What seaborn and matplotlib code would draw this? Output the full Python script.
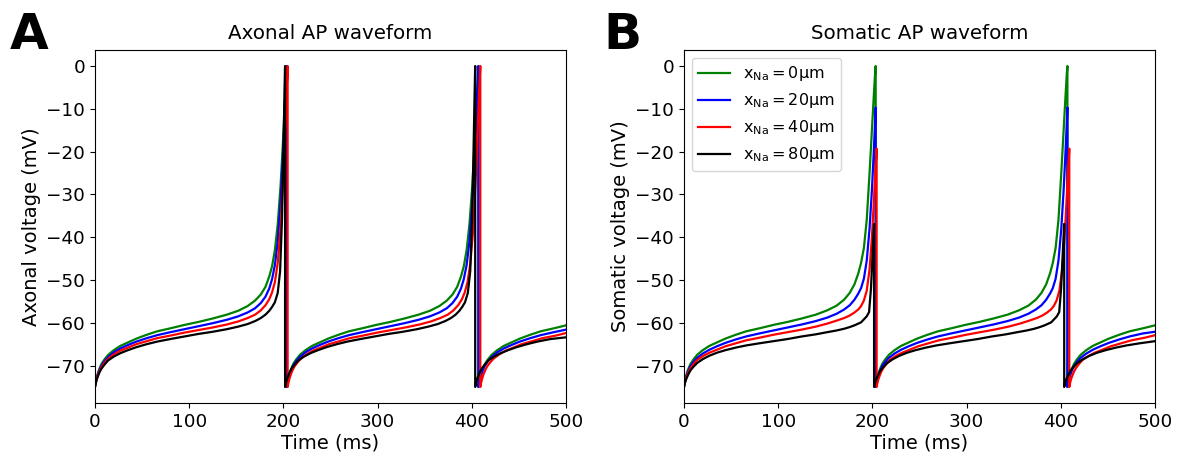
import numpy as np
import pandas as pd
import matplotlib
matplotlib.use("Agg")
import matplotlib.pyplot as plt
import seaborn as sns

# distance of the Na channel cluster from the soma (um) and line colours
x_na = [0, 20, 40, 80]
colors = ["green", "blue", "red", "black"]

# time points (ms) per trace: two spikes, then the start of a third cycle
t_green = [0, 1, 2, 3.5, 5, 7, 10, 14, 20, 27, 35, 44, 55, 66, 80, 95, 110, 125, 140, 152, 162, 170, 176, 181, 185, 188,
           191, 194, 197, 199.5, 201.5, 202.8, 203.5,
           203.5, 204.5, 205.5, 207, 208.5, 210.5, 213.5, 217.5, 223.5, 230.5, 238.5, 247.5, 258.5, 269.5, 283.5, 298.5,
           313.5, 328.5, 343.5, 355.5, 365.5, 373.5, 379.5, 384.5, 388.5, 391.5, 394.5, 397.5, 400.5, 403, 405, 406.3, 407,
           407, 408, 409, 410.5, 412, 414, 417, 421, 427, 434, 442, 451, 462, 473, 487, 500]
t_blue = list(t_green)
t_red = [0, 1, 2, 3.5, 5, 7, 10, 14, 20, 27, 35, 44, 55, 66, 80, 95, 110, 125, 140, 152, 162, 170, 176, 181, 185, 188,
         191, 194, 197, 199.5, 201.5, 203.3, 204.5,
         204.5, 205.5, 206.5, 208, 209.5, 211.5, 214.5, 218.5, 224.5, 231.5, 239.5, 248.5, 259.5, 270.5, 284.5, 299.5,
         314.5, 329.5, 344.5, 356.5, 366.5, 374.5, 380.5, 385.5, 389.5, 392.5, 395.5, 398.5, 401.5, 404, 406, 407.8, 409,
         409, 410, 411, 412.5, 414, 416, 419, 423, 429, 436, 444, 453, 464, 475, 489, 500]
t_black = [0, 1, 2, 3.5, 5, 7, 10, 14, 20, 27, 35, 44, 55, 66, 80, 95, 110, 125, 140, 152, 162, 170, 176, 181, 185, 188,
           191, 194, 196.5, 198.5, 200, 201.2, 201.8,
           201.8, 202.8, 203.8, 205.3, 206.8, 208.8, 211.8, 215.8, 221.8, 228.8, 236.8, 245.8, 256.8, 267.8, 281.8, 296.8,
           311.8, 326.8, 341.8, 353.8, 363.8, 371.8, 377.8, 382.8, 386.8, 389.8, 392.8, 395.8, 398.3, 400.3, 401.8, 403, 403.6,
           403.6, 404.6, 405.6, 407.1, 408.6, 410.6, 413.6, 417.6, 423.6, 430.6, 438.6, 447.6, 458.6, 469.6, 483.6, 500]

# axonal voltage (mV)
ax_green = [-75, -73.7, -72.6, -71.5, -70.6, -69.6, -68.6, -67.5, -66.4, -65.4, -64.6, -63.7, -62.8, -62.0, -61.3, -60.5,
            -59.8, -59.0, -58.1, -57.2, -56.1, -54.8, -53.4, -51.6, -49.2, -46.8, -43, -37, -28, -18, -9, -3, 0,
            -75, -73.7, -72.6, -71.5, -70.6, -69.6, -68.6, -67.5, -66.4, -65.4, -64.6, -63.7, -62.8, -62.0, -61.3, -60.5,
            -59.8, -59.0, -58.1, -57.2, -56.1, -54.8, -53.4, -51.6, -49.2, -46.8, -43, -37, -28, -18, -9, -3, 0,
            -75, -73.7, -72.6, -71.5, -70.6, -69.6, -68.6, -67.5, -66.4, -65.4, -64.6, -63.7, -62.8, -62.0, -61.3, -60.6]
ax_blue = [-75, -73.8, -72.8, -71.8, -70.9, -70, -69, -68, -66.9, -66, -65.2, -64.4, -63.6, -62.9, -62.2, -61.5,
           -60.8, -60.1, -59.3, -58.5, -57.6, -56.6, -55.4, -53.9, -52, -49.8, -46.5, -41, -32, -21, -11, -4, 0,
           -75, -73.8, -72.8, -71.8, -70.9, -70, -69, -68, -66.9, -66, -65.2, -64.4, -63.6, -62.9, -62.2, -61.5,
           -60.8, -60.1, -59.3, -58.5, -57.6, -56.6, -55.4, -53.9, -52, -49.8, -46.5, -41, -32, -21, -11, -4, 0,
           -75, -73.8, -72.8, -71.8, -70.9, -70, -69, -68, -66.9, -66, -65.2, -64.4, -63.6, -62.9, -62.2, -61.6]
ax_red = [-75, -73.9, -73, -72, -71.2, -70.3, -69.4, -68.4, -67.4, -66.5, -65.8, -65, -64.3, -63.6, -63, -62.3,
          -61.7, -61.1, -60.4, -59.7, -58.9, -58.1, -57.1, -55.9, -54.5, -52.9, -50.5, -46, -38, -27, -16, -6, 0,
          -75, -73.9, -73, -72, -71.2, -70.3, -69.4, -68.4, -67.4, -66.5, -65.8, -65, -64.3, -63.6, -63, -62.3,
          -61.7, -61.1, -60.4, -59.7, -58.9, -58.1, -57.1, -55.9, -54.5, -52.9, -50.5, -46, -38, -27, -16, -6, 0,
          -75, -73.9, -73, -72, -71.2, -70.3, -69.4, -68.4, -67.4, -66.5, -65.8, -65, -64.3, -63.6, -63, -62.4]
ax_black = [-75, -74, -73.2, -72.3, -71.5, -70.7, -69.8, -68.8, -67.9, -67.1, -66.4, -65.7, -65, -64.4, -63.8, -63.2,
            -62.6, -62.1, -61.5, -60.9, -60.3, -59.6, -58.9, -58.1, -57.2, -56.3, -55.2, -53, -48, -36, -20, -6, 0,
            -75, -74, -73.2, -72.3, -71.5, -70.7, -69.8, -68.8, -67.9, -67.1, -66.4, -65.7, -65, -64.4, -63.8, -63.2,
            -62.6, -62.1, -61.5, -60.9, -60.3, -59.6, -58.9, -58.1, -57.2, -56.3, -55.2, -53, -48, -36, -20, -6, 0,
            -75, -74, -73.2, -72.3, -71.5, -70.7, -69.8, -68.8, -67.9, -67.1, -66.4, -65.7, -65, -64.4, -63.8, -63.4]

# somatic voltage (mV)
so_green = [-75, -73.7, -72.6, -71.5, -70.6, -69.6, -68.6, -67.5, -66.4, -65.4, -64.6, -63.7, -62.8, -62.0, -61.3, -60.5,
            -59.8, -59.0, -58.1, -57.1, -56.0, -54.6, -53.0, -51.0, -48.5, -46, -42.5, -36, -25, -15, -7, -2, 0,
            -75, -73.7, -72.6, -71.5, -70.6, -69.6, -68.6, -67.5, -66.4, -65.4, -64.6, -63.7, -62.8, -62.0, -61.3, -60.5,
            -59.8, -59.0, -58.1, -57.1, -56.0, -54.6, -53.0, -51.0, -48.5, -46, -42.5, -36, -25, -15, -7, -2, 0,
            -75, -73.7, -72.6, -71.5, -70.6, -69.6, -68.6, -67.5, -66.4, -65.4, -64.6, -63.7, -62.8, -62.0, -61.3, -60.6]
so_blue = [-75, -73.8, -72.9, -71.9, -71, -70.1, -69.2, -68.2, -67.2, -66.3, -65.5, -64.7, -63.9, -63.2, -62.5, -61.8,
           -61.1, -60.4, -59.6, -58.8, -57.9, -56.9, -55.9, -54.6, -53.2, -51.9, -49.7, -45.5, -38, -29, -20, -13.5, -9.7,
           -75, -73.8, -72.9, -71.9, -71, -70.1, -69.2, -68.2, -67.2, -66.3, -65.5, -64.7, -63.9, -63.2, -62.5, -61.8,
           -61.1, -60.4, -59.6, -58.8, -57.9, -56.9, -55.9, -54.6, -53.2, -51.9, -49.7, -45.5, -38, -29, -20, -13.5, -9.7,
           -75, -73.8, -72.9, -71.9, -71, -70.1, -69.2, -68.2, -67.2, -66.3, -65.5, -64.7, -63.9, -63.2, -62.5, -62.1]
so_red = [-75, -73.9, -73.1, -72.2, -71.4, -70.6, -69.7, -68.7, -67.8, -67, -66.3, -65.5, -64.8, -64.1, -63.5, -62.8,
          -62.2, -61.6, -60.9, -60.2, -59.5, -58.9, -58.3, -57.6, -56.9, -56.1, -54.8, -52.5, -47.5, -40, -32, -24, -19.3,
          -75, -73.9, -73.1, -72.2, -71.4, -70.6, -69.7, -68.7, -67.8, -67, -66.3, -65.5, -64.8, -64.1, -63.5, -62.8,
          -62.2, -61.6, -60.9, -60.2, -59.5, -58.9, -58.3, -57.6, -56.9, -56.1, -54.8, -52.5, -47.5, -40, -32, -24, -19.3,
          -75, -73.9, -73.1, -72.2, -71.4, -70.6, -69.7, -68.7, -67.8, -67, -66.3, -65.5, -64.8, -64.1, -63.5, -62.9]
so_black = [-75, -74.1, -73.4, -72.6, -71.9, -71.1, -70.3, -69.4, -68.5, -67.7, -67, -66.4, -65.8, -65.3, -64.8, -64.3,
            -63.8, -63.2, -62.7, -62.2, -61.8, -61.4, -61.0, -60.6, -60.2, -59.9, -59.2, -58.5, -57.5, -52, -45, -39.5, -36.9,
            -75, -74.1, -73.4, -72.6, -71.9, -71.1, -70.3, -69.4, -68.5, -67.7, -67, -66.4, -65.8, -65.3, -64.8, -64.3,
            -63.8, -63.2, -62.7, -62.2, -61.8, -61.4, -61.0, -60.6, -60.2, -59.9, -59.2, -58.5, -57.5, -52, -45, -39.5, -36.9,
            -75, -74.1, -73.4, -72.6, -71.9, -71.1, -70.3, -69.4, -68.5, -67.7, -67, -66.4, -65.8, -65.3, -64.8, -64.3]

times = [t_green, t_blue, t_red, t_black]
axonal = [ax_green, ax_blue, ax_red, ax_black]
somatic = [so_green, so_blue, so_red, so_black]


def make_frame(traces):
    rows = []
    for d, t, v in zip(x_na, times, traces):
        label = r"$\mathrm{x_{Na} = %dµm}$" % d
        rows.append(pd.DataFrame({"time": t, "voltage": v, "label": label}))
    return pd.concat(rows, ignore_index=True)


df_ax = make_frame(axonal)
df_so = make_frame(somatic)
palette = dict(zip(df_ax["label"].unique(), colors))

fig = plt.figure(figsize=(11.78, 4.62), dpi=100)
ax1 = fig.add_axes([0.0806, 0.1277, 0.3999, 0.7641])
ax2 = fig.add_axes([0.5806, 0.1277, 0.3999, 0.7641])

for ax, df, title, ylabel in [(ax1, df_ax, "Axonal AP waveform", "Axonal voltage (mV)"),
                               (ax2, df_so, "Somatic AP waveform", "Somatic voltage (mV)")]:
    sns.lineplot(data=df, x="time", y="voltage", hue="label", palette=palette,
                 estimator=None, sort=False, lw=1.6, ax=ax)
    ax.set_xlim(0, 500)
    ax.set_ylim(-78.75, 3.75)
    ax.set_xticks([0, 100, 200, 300, 400, 500])
    ax.set_yticks([0, -10, -20, -30, -40, -50, -60, -70])
    ax.tick_params(labelsize=13.2)
    ax.set_xlabel("Time (ms)", fontsize=14, labelpad=2)
    ax.set_ylabel(ylabel, fontsize=14, labelpad=4)
    ax.set_title(title, fontsize=14.3, pad=8)

ax1.get_legend().remove()
ax2.legend(loc="upper left", fontsize=11.5, handlelength=2, borderaxespad=0.5)

fig.text(0.008, 0.893, "A", fontsize=36, fontweight="bold")
fig.text(0.512, 0.893, "B", fontsize=36, fontweight="bold")

fig.savefig("out.png", dpi=100)
